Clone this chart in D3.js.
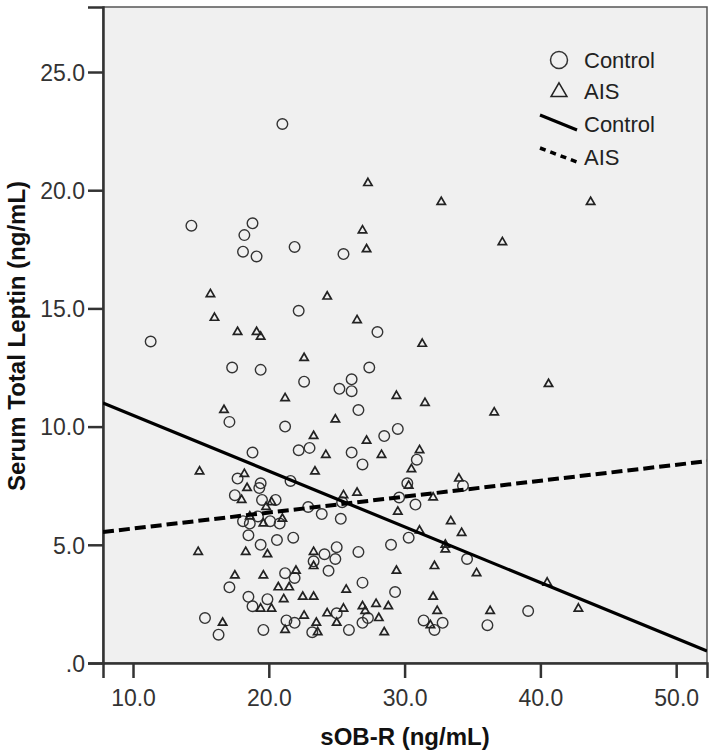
<!DOCTYPE html>
<html>
<head>
<meta charset="utf-8">
<script src="https://cdn.jsdelivr.net/npm/d3@7"></script>
<style>
  body { margin: 0; background: #fff; }
  text { font-family: Arial, "Liberation Sans", sans-serif; }
</style>
</head>
<body>
<svg id="chart" width="715" height="754"></svg>
<script>
// sOB-R (x) vs serum total leptin (y)
const controlPoints = [
  [21.0, 22.8], [14.3, 18.5], [18.8, 18.6], [18.2, 18.1], [18.1, 17.4], [19.1, 17.2],
  [21.9, 17.6], [25.5, 17.3], [22.2, 14.9], [28.0, 14.0], [11.3, 13.6], [17.3, 12.5],
  [19.4, 12.4], [27.4, 12.5], [22.6, 11.9], [26.1, 12.0], [25.2, 11.6], [26.1, 11.5],
  [26.6, 10.7], [17.1, 10.2], [21.2, 10.0], [29.5, 9.9], [28.5, 9.6], [22.2, 9.0],
  [23.0, 9.1], [18.8, 8.9], [26.1, 8.9], [26.9, 8.4], [30.9, 8.6], [17.7, 7.8],
  [19.4, 7.6], [19.3, 7.4], [21.6, 7.7], [30.2, 7.6], [34.3, 7.5], [17.5, 7.1],
  [19.5, 6.9], [20.5, 6.9], [25.4, 6.8], [29.6, 7.0], [30.8, 6.7], [22.9, 6.6],
  [23.9, 6.3], [25.3, 6.1], [18.1, 6.0], [18.6, 5.9], [19.2, 6.2], [20.1, 6.0],
  [20.8, 5.9], [18.5, 5.4], [20.6, 5.2], [21.8, 5.3], [30.3, 5.3], [19.4, 5.0],
  [29.0, 5.0], [24.1, 4.6], [25.0, 4.9], [24.9, 4.4], [26.6, 4.7], [23.3, 4.3],
  [34.6, 4.4], [24.4, 3.9], [21.2, 3.8], [21.9, 3.6], [17.1, 3.2], [26.9, 3.4],
  [29.3, 3.0], [18.5, 2.8], [19.9, 2.7], [18.8, 2.4], [25.0, 2.1], [26.9, 1.7],
  [27.3, 1.9], [39.1, 2.2], [15.3, 1.9], [16.3, 1.2], [19.6, 1.4], [21.3, 1.8],
  [21.9, 1.7], [23.2, 1.3], [25.9, 1.4], [31.4, 1.8], [32.8, 1.7], [32.2, 1.4],
  [36.1, 1.6]
];

const aisPoints = [
  [27.3, 20.3], [32.7, 19.5], [43.7, 19.5], [37.2, 17.8], [26.9, 18.3], [27.2, 17.5],
  [15.7, 15.6], [24.3, 15.5], [16.0, 14.6], [26.5, 14.5], [17.7, 14.0], [19.1, 14.0],
  [19.4, 13.8], [31.3, 13.5], [22.6, 12.9], [40.6, 11.8], [21.2, 11.2], [29.4, 11.3],
  [31.5, 11.0], [16.7, 10.7], [36.6, 10.6], [24.9, 10.3], [23.3, 9.6], [27.2, 9.4],
  [24.2, 8.8], [28.3, 8.8], [31.1, 9.0], [30.5, 8.2], [14.9, 8.1], [23.4, 8.1],
  [18.2, 8.0], [34.0, 7.8], [30.3, 7.5], [18.4, 7.4], [18.0, 6.9], [20.2, 6.8],
  [25.5, 7.1], [26.5, 7.2], [32.1, 7.0], [19.8, 6.6], [29.5, 6.4], [18.6, 6.2],
  [19.6, 5.9], [21.0, 6.1], [33.4, 6.0], [31.1, 5.6], [34.2, 5.5], [33.0, 5.0],
  [33.0, 4.8], [14.8, 4.7], [18.3, 4.7], [19.9, 4.6], [23.3, 4.7], [23.3, 4.1],
  [32.2, 4.1], [29.4, 3.9], [22.0, 3.9], [35.3, 3.8], [17.5, 3.7], [19.6, 3.7],
  [40.5, 3.4], [21.5, 3.2], [20.7, 3.2], [25.7, 3.1], [32.1, 2.8], [21.1, 2.7],
  [22.5, 2.8], [23.3, 2.8], [19.4, 2.3], [20.2, 2.3], [42.8, 2.3], [32.4, 2.2],
  [36.3, 2.2], [22.6, 2.0], [24.3, 2.1], [25.5, 2.3], [26.9, 2.4], [27.1, 2.2],
  [27.9, 2.5], [28.1, 1.9], [28.8, 2.4], [16.6, 1.7], [23.5, 1.7], [25.0, 1.7],
  [21.2, 1.4], [23.6, 1.3], [28.5, 1.3], [31.9, 1.6]
];

// fit lines: [intercept, slope]
const controlFit = [12.84, -0.236];
const aisFit = [5.015, 0.0674];

const xTicks = [10, 20, 30, 40, 50];
const xTickLabels = ["10.0", "20.0", "30.0", "40.0", "50.0"];
const yTicks = [0, 5, 10, 15, 20, 25];
const yTickLabels = [".0", "5.0", "10.0", "15.0", "20.0", "25.0"];
const legendLabels = ["Control", "AIS", "Control", "AIS"];

const svg = d3.select("#chart");
const margin = { top: 7, right: 8, bottom: 91, left: 103 };
const width = 715 - margin.left - margin.right;
const height = 754 - margin.top - margin.bottom;

const x = d3.scaleLinear().domain([7.79, 52.27]).range([0, width]);
const y = d3.scaleLinear().domain([0, 27.75]).range([height, 0]);

const g = svg.append("g").attr("transform", `translate(${margin.left},${margin.top})`);

g.append("rect")
  .attr("width", width)
  .attr("height", height)
  .attr("fill", "#f0f0f0")
  .attr("stroke", "#555")
  .attr("stroke-width", 1.5);

g.append("clipPath").attr("id", "clip")
  .append("rect").attr("width", width).attr("height", height);

// axes
const xAxis = g.append("g")
  .attr("transform", `translate(0,${height})`)
  .call(d3.axisBottom(x).tickValues(xTicks).tickSize(15).tickPadding(6)
    .tickFormat((d, i) => xTickLabels[i]));

const yAxis = g.append("g")
  .call(d3.axisLeft(y).tickValues(yTicks).tickSize(15).tickPadding(3)
    .tickFormat((d, i) => yTickLabels[i]));

[xAxis, yAxis].forEach(a => {
  a.select(".domain").attr("stroke", "#333").attr("stroke-width", 2.5);
  a.selectAll(".tick line").attr("stroke", "#333").attr("stroke-width", 2.5);
  a.selectAll(".tick text").attr("font-size", 23).attr("fill", "#333")
    .attr("font-family", "Arial, 'Liberation Sans', sans-serif");
});
xAxis.selectAll(".tick text").attr("dy", "0.95em");
yAxis.selectAll(".tick text").attr("dy", "0.36em");

// points
const plot = g.append("g").attr("clip-path", "url(#clip)");

plot.selectAll(".ctrl")
  .data(controlPoints)
  .enter()
  .append("circle")
  .attr("class", "ctrl")
  .attr("cx", d => x(d[0]))
  .attr("cy", d => y(d[1]))
  .attr("r", 5.3)
  .attr("fill", "none")
  .attr("stroke", "#333")
  .attr("stroke-width", 1.4);

const tri = d3.symbol().type(d3.symbolTriangle).size(30);
plot.selectAll(".ais")
  .data(aisPoints)
  .enter()
  .append("path")
  .attr("class", "ais")
  .attr("d", tri)
  .attr("transform", d => `translate(${x(d[0])},${y(d[1])})`)
  .attr("fill", "none")
  .attr("stroke", "#222")
  .attr("stroke-width", 1.7);

// fit lines
const fitLine = f => d3.line()
  .x(d => x(d))
  .y(d => y(f[0] + f[1] * d));

plot.append("path")
  .datum(x.domain())
  .attr("d", fitLine(controlFit))
  .attr("fill", "none")
  .attr("stroke", "#000")
  .attr("stroke-width", 3.2);

plot.append("path")
  .datum(x.domain())
  .attr("d", fitLine(aisFit))
  .attr("fill", "none")
  .attr("stroke", "#000")
  .attr("stroke-width", 4)
  .attr("stroke-dasharray", "11,5");

// legend
const leg = svg.append("g");
const legY = [60, 91, 124, 157];
leg.append("circle").attr("cx", 559).attr("cy", legY[0]).attr("r", 8.5)
  .attr("fill", "none").attr("stroke", "#333").attr("stroke-width", 1.5);
leg.append("path").attr("d", d3.symbol().type(d3.symbolTriangle).size(110))
  .attr("transform", `translate(559,${legY[1] + 1})`)
  .attr("fill", "none").attr("stroke", "#222").attr("stroke-width", 1.5);
leg.append("line").attr("x1", 540).attr("y1", 115).attr("x2", 577).attr("y2", 130)
  .attr("stroke", "#000").attr("stroke-width", 3.2);
leg.append("line").attr("x1", 540).attr("y1", 148).attr("x2", 577).attr("y2", 162)
  .attr("stroke", "#000").attr("stroke-width", 3.5).attr("stroke-dasharray", "6,5");

leg.selectAll(".lt")
  .data(legendLabels)
  .enter()
  .append("text")
  .attr("x", 584)
  .attr("y", (d, i) => legY[i])
  .attr("dy", "0.36em")
  .attr("font-size", 22)
  .attr("fill", "#222")
  .text(d => d);

// axis titles
svg.append("text")
  .attr("x", 405)
  .attr("y", 745)
  .attr("text-anchor", "middle")
  .attr("font-size", 24)
  .attr("font-weight", "bold")
  .attr("fill", "#111")
  .text("sOB-R (ng/mL)");

svg.append("text")
  .attr("transform", "translate(25,336) rotate(-90)")
  .attr("text-anchor", "middle")
  .attr("font-size", 24)
  .attr("font-weight", "bold")
  .attr("fill", "#111")
  .text("Serum Total Leptin (ng/mL)");
</script>
</body>
</html>
